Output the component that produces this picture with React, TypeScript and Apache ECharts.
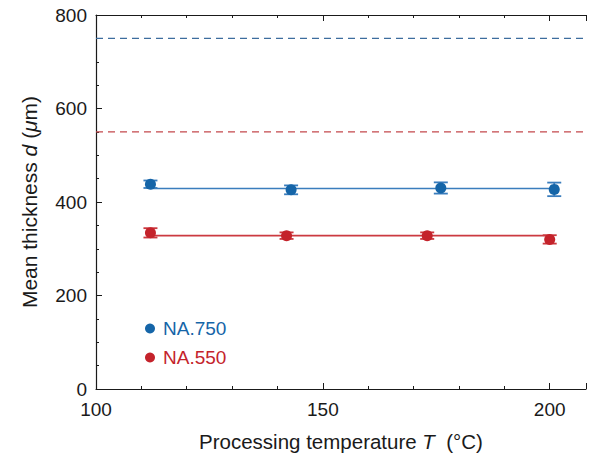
import React, { useEffect, useRef } from "react";
import * as echarts from "echarts";

const blueT = [112, 143, 176, 201];
const blueD = [438, 426, 430, 427];
const blueErr = [8, 9.5, 12, 14.5];
const blueFit = 429;
const blueRef = 750;

const redT = [112, 142, 173, 200];
const redD = [334, 328, 328, 320];
const redErr = [10, 7, 7, 9];
const redFit = 328;
const redRef = 550;

const yTicks = [0, 200, 400, 600, 800];
const xTicks = [100, 150, 200];

const BLUE = "#1565a8";
const RED = "#c4232b";
const BLUE_LINE = "#3a7dbd";
const RED_LINE = "#cc3a40";
const BLUE_DASH = "#3d6d9e";
const RED_DASH = "#c4484c";
const FONT = "Liberation Sans";
const INK = "#1a1a1a";

function errSeries(name: string, t: number[], d: number[], e: number[], color: string) {
  return {
    type: "custom",
    name: name + "-err",
    z: 3,
    data: t.map((x, i) => [x, d[i] - e[i], d[i] + e[i]]),
    renderItem: (params: any, api: any) => {
      const lo = api.coord([api.value(0), api.value(1)]);
      const hi = api.coord([api.value(0), api.value(2)]);
      const w = 7;
      const style = { stroke: color, lineWidth: 1.8 };
      return {
        type: "group",
        children: [
          { type: "line", shape: { x1: lo[0], y1: lo[1], x2: hi[0], y2: hi[1] }, style },
          { type: "line", shape: { x1: lo[0] - w, y1: lo[1], x2: lo[0] + w, y2: lo[1] }, style },
          { type: "line", shape: { x1: hi[0] - w, y1: hi[1], x2: hi[0] + w, y2: hi[1] }, style },
        ],
      };
    },
  };
}

export default function App() {
  const ref = useRef<HTMLDivElement>(null);
  useEffect(() => {
    const chart = echarts.init(ref.current!, null, { renderer: "svg" });
    const axisLine = { lineStyle: { color: INK, width: 1.2 } };
    const richX = {
      n: { fontSize: 20.5, color: INK, fontFamily: FONT },
      i: { fontSize: 20.5, color: INK, fontStyle: "italic", fontFamily: FONT },
    };
    const richY = {
      n: { fontSize: 21, color: INK, fontFamily: FONT },
      i: { fontSize: 21, color: INK, fontStyle: "italic", fontFamily: FONT },
    };
    chart.setOption({
      animation: false,
      textStyle: { fontFamily: FONT },
      grid: { left: 96, top: 15, right: 1, bottom: 60, containLabel: false },
      legend: {
        left: 140,
        top: 314,
        orient: "vertical",
        itemGap: 10,
        itemWidth: 10,
        itemHeight: 10,
        selectedMode: false,
        data: [
          { name: "NA.750", icon: "circle", textStyle: { color: BLUE } },
          { name: "NA.550", icon: "circle", textStyle: { color: RED } },
        ],
        textStyle: { fontSize: 19, fontFamily: FONT, padding: [0, 0, 0, 3] },
      },
      xAxis: [
        {
          type: "value",
          min: 100,
          max: 208,
          interval: 50,
          name: "{n|Processing temperature }{i|T}{n|  (°C)}",
          nameLocation: "middle",
          nameGap: 42,
          nameTextStyle: { rich: richX },
          axisLine,
          axisTick: { inside: true, length: 6, lineStyle: { color: INK } },
          minorTick: { show: true, splitNumber: 5, length: 3, lineStyle: { color: INK } },
          axisLabel: {
            fontSize: 19,
            color: INK,
            margin: 11,
            formatter: (v: number) => (xTicks.includes(v) ? String(v) : ""),
          },
          splitLine: { show: false },
        },
        {
          type: "value",
          position: "top",
          min: 100,
          max: 208,
          interval: 50,
          axisLine,
          axisTick: { inside: true, length: 6, lineStyle: { color: INK } },
          minorTick: { show: true, splitNumber: 5, length: 3, lineStyle: { color: INK } },
          axisLabel: { show: false },
          splitLine: { show: false },
        },
      ],
      yAxis: {
        type: "value",
        min: 0,
        max: 800,
        interval: 200,
        name: "{n|Mean thickness }{i|d}{n| (}{i|μ}{n|m)}",
        nameLocation: "middle",
        nameGap: 56,
        nameTextStyle: { rich: richY },
        axisLine: { show: true, ...axisLine },
        axisTick: { show: true, inside: true, length: 6, lineStyle: { color: INK } },
        minorTick: { show: true, splitNumber: 4, length: 3, lineStyle: { color: INK } },
        axisLabel: {
          fontSize: 19,
          color: INK,
          margin: 9,
          formatter: (v: number) => (yTicks.includes(v) ? String(v) : ""),
        },
        splitLine: { show: false },
      },
      series: [
        {
          type: "line",
          name: "blue-ref",
          data: [[100, blueRef], [208, blueRef]],
          symbol: "none",
          lineStyle: { color: BLUE_DASH, width: 1.2, type: [7, 5] },
          silent: true,
        },
        {
          type: "line",
          name: "red-ref",
          data: [[100, redRef], [208, redRef]],
          symbol: "none",
          lineStyle: { color: RED_DASH, width: 1.2, type: [7, 5] },
          silent: true,
        },
        {
          type: "line",
          name: "blue-fit",
          data: [[blueT[0], blueFit], [blueT[blueT.length - 1], blueFit]],
          symbol: "none",
          lineStyle: { color: BLUE_LINE, width: 1.6 },
          silent: true,
        },
        {
          type: "line",
          name: "red-fit",
          data: [[redT[0], redFit], [redT[redT.length - 1], redFit]],
          symbol: "none",
          lineStyle: { color: RED_LINE, width: 1.6 },
          silent: true,
        },
        errSeries("NA.750", blueT, blueD, blueErr, BLUE_LINE),
        errSeries("NA.550", redT, redD, redErr, RED_LINE),
        {
          type: "scatter",
          name: "NA.750",
          data: blueT.map((x, i) => [x, blueD[i]]),
          symbolSize: 11,
          itemStyle: { color: BLUE, opacity: 1 },
          z: 4,
        },
        {
          type: "scatter",
          name: "NA.550",
          data: redT.map((x, i) => [x, redD[i]]),
          symbolSize: 11,
          itemStyle: { color: RED, opacity: 1 },
          z: 4,
        },
      ],
    });
    return () => chart.dispose();
  }, []);
  return <div ref={ref} style={{ width: 589, height: 457, position: "absolute", left: 0, top: 0 }} />;
}
